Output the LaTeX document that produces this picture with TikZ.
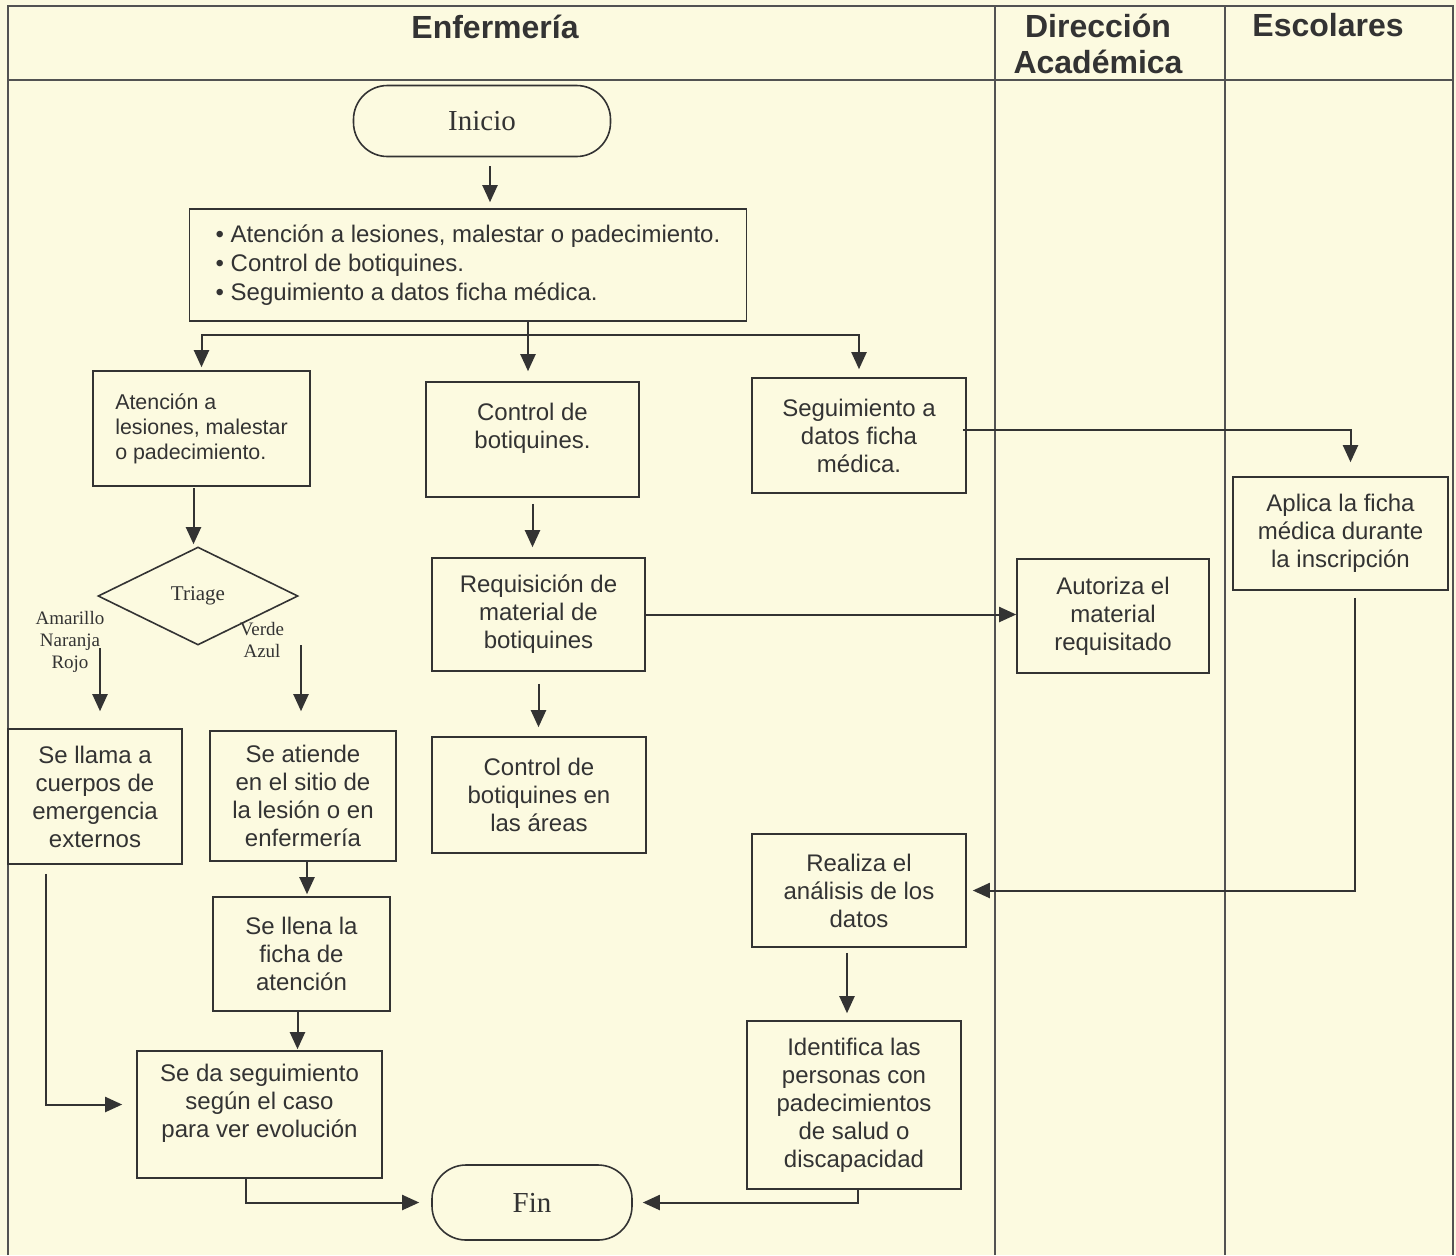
\documentclass[tikz,border=0pt]{standalone}
\usepackage{fontspec}
\setmainfont{Liberation Sans}
\newfontfamily\serifa{Liberation Serif}
\usetikzlibrary{arrows.meta,shapes.geometric}
\definecolor{fondo}{RGB}{252,250,224}
\definecolor{tinta}{RGB}{51,51,51}

\begin{document}
\begin{tikzpicture}[x=0.5pt,y=-0.5pt,
  caja/.style={draw=tinta,line width=0.8pt,align=center,inner sep=2pt,text=tinta,font=\fontsize{12}{14}\selectfont},
  termino/.style={draw=tinta,line width=0.8pt,rounded corners=17pt,text=tinta,font=\serifa\fontsize{14.5}{17}\selectfont},
  arr/.style={draw=tinta,line width=1pt,-{Triangle[width=7.5pt,length=8.5pt]},shorten <=3pt,shorten >=3pt},
  linea/.style={draw=tinta,line width=1pt},
  carril/.style={draw=tinta!85,line width=0.6pt},
  titulo/.style={align=center,text=tinta,font=\bfseries\fontsize{16}{18}\selectfont},
  etiqueta/.style={align=center,text=tinta,font=\serifa\fontsize{9.5}{11}\selectfont}]
\useasboundingbox (0,0) rectangle (1456,1255);
\fill[fondo] (0,0) rectangle (1456,1255);
\draw[carril] (8,1255) -- (8,6) -- (1453,6) -- (1453,1255);
\draw[carril] (8,80) -- (1453,80);
\draw[carril] (995,6) -- (995,1255);
\draw[carril] (1225,6) -- (1225,1255);
\node[titulo] (enfermeria) at (495,27) {Enfermería};
\node[titulo] (direccion) at (1098,44) {Dirección\\Académica};
\node[titulo] (escolares) at (1328,25) {Escolares};

\node[termino,minimum width=128.5pt,minimum height=35.5pt] (inicio) at (482,121) {Inicio};
\node[caja,align=left,minimum width=278.5pt,minimum height=56pt,font=\fontsize{12}{14.5}\selectfont] (lista) at (468,265)
  {\textbullet\ Atención a lesiones, malestar o padecimiento.\\\textbullet\ Control de botiquines.\\\textbullet\ Seguimiento a datos ficha médica.};
\node[caja,align=left,minimum width=108.5pt,minimum height=57.5pt,font=\fontsize{10.7}{12.5}\selectfont] (atencion) at (201.5,428.5)
  {Atención a\\lesiones, malestar\\o padecimiento.};
\node[caja,minimum width=106.5pt,minimum height=57.5pt] (botiquin) at (532.5,439.5) {Control de\\botiquines.\\\mbox{}};
\node[caja,minimum width=107pt,minimum height=57.5pt] (segdatos) at (859,435.5) {Seguimiento a\\datos ficha\\médica.};
\node[caja,minimum width=107.5pt,minimum height=56.5pt] (aplica) at (1340.5,533.5) {Aplica la ficha\\médica durante\\la inscripción};
\node[draw=tinta,line width=0.8pt,diamond,minimum width=100pt,minimum height=49pt,inner sep=0pt,text=tinta,font=\serifa\fontsize{10.5}{12}\selectfont] (triage) at (198,596) {Triage};
\node[etiqueta] (rojo) at (70,642) {Amarillo\\Naranja\\Rojo};
\node[etiqueta] (azul) at (262,640) {Verde\\Azul};
\node[caja,minimum width=87pt,minimum height=67.5pt] (llama) at (95,796.5) {Se llama a\\cuerpos de\\emergencia\\externos};
\node[caja,minimum width=93pt,minimum height=65pt] (atiende) at (303,796) {Se atiende\\en el sitio de\\la lesión o en\\enfermería};
\node[caja,minimum width=88.5pt,minimum height=57pt] (llena) at (301.5,954) {Se llena la\\ficha de\\atención};
\node[caja,minimum width=122.5pt,minimum height=63.5pt] (seguimiento) at (259.5,1114.5) {Se da seguimiento\\según el caso\\para ver evolución\\\mbox{}};
\node[termino,minimum width=100pt,minimum height=37.5pt] (fin) at (532,1202.5) {Fin};
\node[caja,minimum width=106.5pt,minimum height=56.5pt] (requisicion) at (538.5,614.5) {Requisición de\\material de\\botiquines};
\node[caja,minimum width=96pt,minimum height=57pt] (autoriza) at (1113,616) {Autoriza el\\material\\requisitado};
\node[caja,minimum width=107pt,minimum height=58pt] (areas) at (539,795) {Control de\\botiquines en\\las áreas};
\node[caja,minimum width=107pt,minimum height=56.5pt] (analisis) at (859,890.5) {Realiza el\\análisis de los\\datos};
\node[caja,minimum width=107pt,minimum height=84pt] (identifica) at (854,1105) {Identifica las\\personas con\\padecimientos\\de salud o\\discapacidad};

\coordinate (rama) at (528,335);
\coordinate (pasoA) at (100,648);
\coordinate (pasoB) at (301,645);
\draw[arr,shorten <=4.5pt] ([xshift=4pt]inicio.south) -- ([xshift=4pt]inicio.south |- lista.north);
\draw[linea] (lista.south -| rama) -- (rama);
\draw[arr,shorten <=0pt,shorten >=1.5pt] (rama) -| (atencion.north);
\draw[arr,shorten <=0pt,shorten >=5pt] (rama) -- (rama |- botiquin.north);
\draw[arr,shorten <=0pt,shorten >=4pt] (rama) -| (segdatos.north);
\draw[arr,shorten <=0.5pt,shorten >=1pt] ([xshift=-4pt]atencion.south) -- ([xshift=-4pt]atencion.south |- triage.north);
\draw[arr,shorten <=0pt,shorten >=8.5pt] (pasoA) -- (pasoA |- llama.north);
\draw[arr,shorten <=0pt,shorten >=9.5pt] (pasoB) -- (pasoB |- atiende.north);
\draw[arr,shorten <=0pt,shorten >=1pt] ([xshift=2pt]atiende.south) -- ([xshift=2pt]atiende.south |- llena.north);
\draw[arr,shorten <=0pt,shorten >=0.5pt] ([xshift=-2pt]llena.south) -- ([xshift=-2pt]llena.south |- seguimiento.north);
\draw[arr,shorten <=4.5pt,shorten >=7pt] ([xshift=-24.5pt]llama.south) |- ([yshift=5pt]seguimiento.west);
\draw[arr,shorten <=0pt,shorten >=6pt] ([xshift=-7pt]seguimiento.south) |- (fin.west);
\draw[arr,shorten <=3pt,shorten >=5pt] (botiquin.south) -- (botiquin.south |- requisicion.north);
\draw[arr,shorten <=6pt,shorten >=4.5pt] (requisicion.south) -- (requisicion.south |- areas.north);
\draw[arr,shorten <=0pt,shorten >=0pt] (requisicion.east) -- (requisicion.east -| autoriza.west);
\draw[arr,shorten <=-2pt,shorten >=7pt] ([yshift=3pt]segdatos.east) -| ([xshift=5pt]aplica.north);
\draw[arr,shorten <=3.5pt,shorten >=3pt] ([xshift=7pt]aplica.south) |- (analisis.east);
\draw[arr,shorten <=2.5pt,shorten >=3.5pt] ([xshift=-6pt]analisis.south) -- ([xshift=-6pt]analisis.south |- identifica.north);
\draw[arr,shorten <=0pt,shorten >=5pt] ([xshift=2pt]identifica.south) |- (fin.east);
\end{tikzpicture}
\end{document}
